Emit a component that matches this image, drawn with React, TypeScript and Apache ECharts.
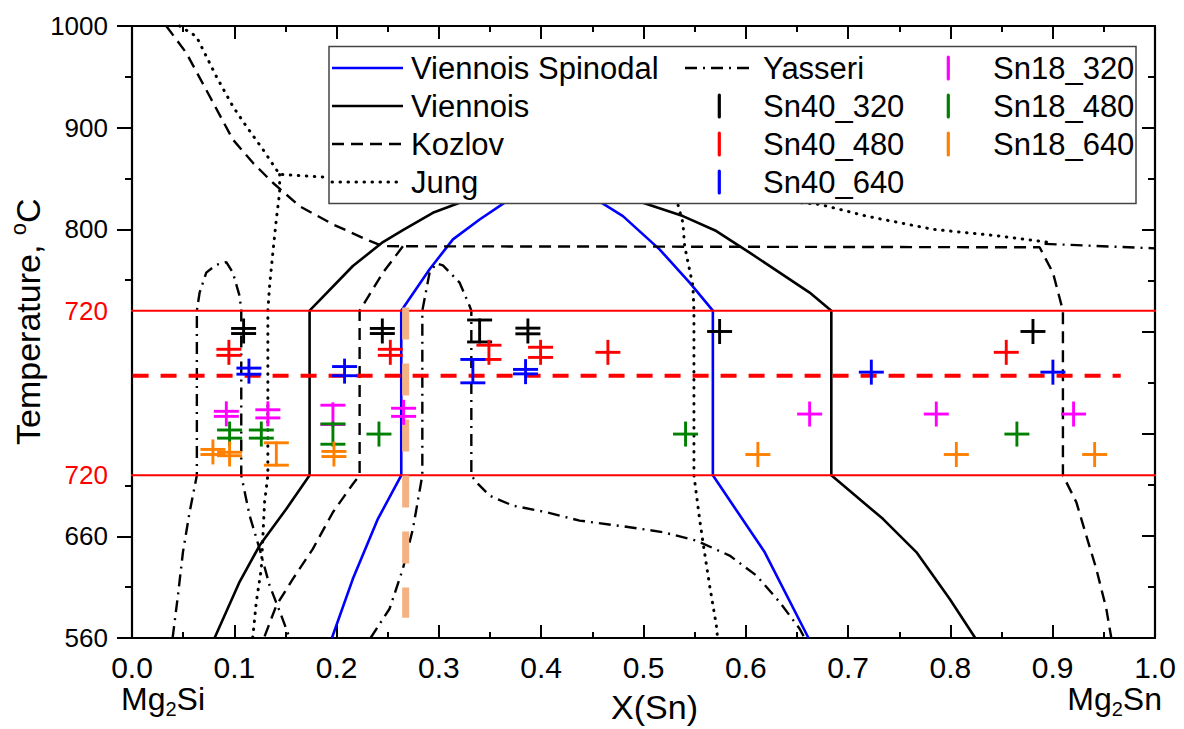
import React, { useEffect, useRef } from "react";
import * as echarts from "echarts";

// ---- Axis ticks (left axis is broken: lower 560-720, middle band, upper 720-1000) ----
const yTickValues = [0, 100, 160, 322, 402, 502, 602];
const yTickLabels = ["560", "660", "720", "720", "800", "900", "1000"];
const yMinorValues = [50, 150, 352, 452, 552];

// ---- Phase boundary curves: [X(Sn), chart y] ----
const viennoisSpinodal: [number, number][] = [
  [0.1954, 0], [0.2159, 58.2], [0.2404, 117.2], [0.2632, 160], [0.2632, 322],
  [0.2909, 362.7], [0.3137, 392.1], [0.3398, 411.7], [0.3643, 428.2], [0.3887, 443.2],
  [0.4327, 443.2], [0.4588, 428.2], [0.4799, 415], [0.5157, 382.3], [0.5451, 349.6],
  [0.5678, 322], [0.5678, 160], [0.6184, 84.5], [0.6613, 0],
];
const viennois: [number, number][] = [
  [0.0807, 0], [0.1052, 55.3], [0.1247, 90.9], [0.1508, 127], [0.1736, 160], [0.1736, 322],
  [0.2159, 365.9], [0.2453, 389.5], [0.2648, 401.3], [0.2941, 418.3], [0.3202, 428.2],
  [0.3593, 439.3], [0.418, 447.1], [0.4571, 445.2], [0.4994, 428.2], [0.5385, 415],
  [0.5712, 400.3], [0.6037, 379.1], [0.6624, 339.8], [0.6836, 322], [0.6836, 160],
  [0.734, 117.2], [0.7667, 84.5], [0.7992, 38.6], [0.8243, 0],
];
const kozlovLiquidus: [number, number][] = [
  [0.0335, 602], [0.0531, 575.5], [0.0759, 532.9], [0.0986, 490.3], [0.1182, 467.4],
  [0.1377, 447.8], [0.1638, 424.8], [0.1964, 406.9], [0.229, 392.1], [0.2453, 385.5],
  [0.2648, 385.3], [0.5, 385], [0.8872, 384.3], [0.9002, 359.4], [0.91, 322], [0.91, 160],
  [0.9231, 133.6], [0.9328, 100.8], [0.9426, 68.1], [0.9524, 28.8], [0.9573, 0],
];
const kozlovLeft: [number, number][] = [
  [0.2648, 385.3], [0.2453, 359.4], [0.2225, 322], [0.2225, 160], [0.2159, 151.5],
  [0.1964, 123.7], [0.1768, 87.7], [0.1573, 58.2], [0.1411, 32], [0.129, 0],
];
const jungLiquidus: [number, number][] = [
  [0.0465, 602], [0.0629, 591.8], [0.0824, 552.5], [0.0986, 523], [0.1117, 503.4],
  [0.128, 480.5], [0.1443, 456], [0.1922, 453.1], [0.3593, 446.2], [0.5548, 436.4],
  [0.6721, 426.6], [0.7178, 415], [0.7829, 402], [0.8481, 395.4], [0.8937, 389.5], [0.8999, 386.2],
];
const jungLeft: [number, number][] = [
  [0.1443, 456], [0.1443, 438], [0.1411, 411.8], [0.1377, 379.1], [0.1345, 346.3],
  [0.1328, 322], [0.1328, 160], [0.1296, 133.6], [0.128, 100.8], [0.1264, 68.1],
  [0.1215, 35.4], [0.1189, 9.1], [0.1179, 0],
];
const jungRight: [number, number][] = [
  [0.5314, 441.3], [0.5336, 426.5], [0.5385, 408.5], [0.5402, 385.5], [0.5483, 346.3],
  [0.5493, 322], [0.5493, 160], [0.5548, 117.2], [0.5581, 94.3], [0.5646, 51.7],
  [0.5712, 12.4], [0.5724, 0],
];
const yasseriLeft: [number, number][] = [
  [0.0397, 0], [0.0449, 41.8], [0.0498, 84.5], [0.0563, 123.7], [0.0634, 160], [0.0634, 322],
  [0.0661, 339.8], [0.0726, 359.4], [0.0822, 367], [0.0922, 369.8], [0.0986, 359.4],
  [0.1052, 336.4], [0.1068, 322], [0.1068, 160], [0.115, 120.4], [0.1247, 87.7],
  [0.1345, 51.7], [0.1459, 22.2], [0.1541, 0],
];
const yasseriMiddle: [number, number][] = [
  [0.2332, 0], [0.2518, 28.8], [0.2648, 68.1], [0.2746, 107.3], [0.2838, 160], [0.2838, 322],
  [0.2909, 359.4], [0.2975, 368.6], [0.3039, 366.6], [0.3202, 349.6], [0.33, 326.6],
  [0.3317, 322], [0.3317, 160], [0.3366, 153.2], [0.3496, 140], [0.3723, 130.2],
  [0.405, 123.7], [0.4375, 115.5], [0.4864, 109], [0.519, 104.1], [0.5516, 95.8],
  [0.5842, 81.1], [0.6103, 61.5], [0.633, 35.4], [0.6526, 9.1], [0.6575, 0],
];
const yasseriRight: [number, number][] = [[0.8921, 387.7], [1.0, 383.3]];

// ---- Reference lines ----
const redUpper: [number, number][] = [[-0.018, 322], [1.021, 322]];
const redLower: [number, number][] = [[-0.018, 160], [1.021, 160]];
const redDashed: [number, number][] = [[-0.0268, 257.9], [0.9665, 257.9]];
const salmonDashed: [number, number][] = [[0.2675, 325], [0.2675, 20]];

// ---- Samples: [X(Sn), chart y, error half-height] ----
const sn40_320: number[][] = [
  [0.1091, 302, 2.5], [0.2447, 302, 2.5], [0.3398, 302, 10.8], [0.387, 302, 2.8],
  [0.5744, 301.5, 0], [0.8807, 301.5, 0],
];
const sn40_480: number[][] = [
  [0.0947, 281, 3], [0.2525, 281, 3], [0.3489, 281, 7], [0.3994, 281, 5],
  [0.4652, 281, 0], [0.8546, 281, 0],
];
const sn40_640: number[][] = [
  [0.1143, 262.5, 3], [0.2078, 262.5, 4.5], [0.3332, 262.5, 11.5], [0.3847, 262, 2.2],
  [0.7227, 261.5, 0], [0.9002, 261.5, 0],
];
const sn18_320: number[][] = [
  [0.0922, 220.5, 2.5], [0.1328, 220.5, 4], [0.1964, 219.5, 9.5], [0.2655, 222, 4],
  [0.6624, 220.3, 0], [0.7862, 220.3, 0], [0.9204, 220.3, 0],
];
const sn18_480: number[][] = [
  [0.0954, 200.6, 4], [0.1264, 200.6, 4], [0.1964, 200.6, 10], [0.2414, 200.6, 0],
  [0.5411, 200.6, 0], [0.865, 200.6, 0],
];
const sn18_640: number[][] = [
  [0.0791, 183, 2.5], [0.0954, 181, 1.7], [0.1411, 181, 11], [0.1974, 181, 2.5],
  [0.6118, 180.5, 0], [0.8058, 180.5, 0], [0.941, 180.5, 0],
];

const FONT = '"Liberation Sans", Arial, sans-serif';

const DASH = [12, 7];
const DOT = [0.5, 7.5];
const DASHDOT = [12, 6, 2, 6];

function lineSeries(name: string, data: [number, number][], color: string, width: number, type: any, cap: string = "butt", z = 2) {
  return {
    type: "line",
    name,
    data,
    showSymbol: false,
    symbol: "none",
    clip: false,
    z,
    silent: true,
    lineStyle: { color, width, type, cap },
  };
}

function pointRenderer(params: any, api: any) {
  const c = api.coord([api.value(0), api.value(1)]);
  const e = api.value(2);
  const ep = e ? Math.abs(api.size([0, e])[1]) : 0;
  const color = api.visual("color");
  const hw = 12.5;
  const half = Math.max(12.5, ep);
  const style = { stroke: color, lineWidth: 2.9 };
  const children: any[] = [
    { type: "line", shape: { x1: c[0], y1: c[1] - half, x2: c[0], y2: c[1] + half }, style },
  ];
  if (ep > 0) {
    children.push({ type: "line", shape: { x1: c[0] - hw, y1: c[1] - ep, x2: c[0] + hw, y2: c[1] - ep }, style });
    children.push({ type: "line", shape: { x1: c[0] - hw, y1: c[1] + ep, x2: c[0] + hw, y2: c[1] + ep }, style });
  } else {
    children.push({ type: "line", shape: { x1: c[0] - hw, y1: c[1], x2: c[0] + hw, y2: c[1] }, style });
  }
  return { type: "group", children };
}

function pointSeries(name: string, data: number[][], color: string) {
  return {
    type: "custom",
    name,
    data,
    z: 5,
    itemStyle: { color },
    encode: { x: 0, y: 1 },
    renderItem: pointRenderer,
  };
}

function legendGraphics() {
  const Z = 100;
  const els: any[] = [];
  els.push({
    type: "rect",
    z: Z,
    shape: { x: 329, y: 46.5, width: 807, height: 157 },
    style: { fill: "#ffffff", stroke: "#444", lineWidth: 1.5 },
  });
  const rows = [68, 106, 144, 182];
  const txt = (x: number, y: number, text: string) => ({
    type: "text",
    z: Z + 1,
    x,
    y,
    style: { text, font: `31px ${FONT}`, fill: "#000", align: "left", verticalAlign: "middle", textAlign: "left", textVerticalAlign: "middle" },
  });
  const seg = (x1: number, x2: number, y: number, stroke: string, lineDash: any, cap = "butt", w = 2.6) => ({
    type: "line",
    z: Z + 1,
    shape: { x1, y1: y, x2, y2: y },
    style: { stroke, lineWidth: w, lineDash, lineCap: cap },
  });
  const bar = (x: number, y: number, stroke: string) => ({
    type: "line",
    z: Z + 1,
    shape: { x1: x, y1: y - 11, x2: x, y2: y + 11 },
    style: { stroke, lineWidth: 3.2, lineCap: "round" },
  });
  els.push(seg(332, 403, rows[0], "#0000ff", null));
  els.push(txt(411, rows[0], "Viennois Spinodal"));
  els.push(seg(332, 403, rows[1], "#000", null));
  els.push(txt(411, rows[1], "Viennois"));
  els.push(seg(332, 403, rows[2], "#000", DASH, "butt", 2.4));
  els.push(txt(411, rows[2], "Kozlov"));
  els.push(seg(332, 403, rows[3], "#000", DOT, "round", 3));
  els.push(txt(411, rows[3], "Jung"));
  els.push(seg(685, 755, rows[0], "#000", DASHDOT, "butt", 2.4));
  els.push(txt(763, rows[0], "Yasseri"));
  els.push(bar(719.3, rows[1], "#000"));
  els.push(txt(763, rows[1], "Sn40_320"));
  els.push(bar(719.3, rows[2], "#ff0000"));
  els.push(txt(763, rows[2], "Sn40_480"));
  els.push(bar(719.3, rows[3], "#0000ff"));
  els.push(txt(763, rows[3], "Sn40_640"));
  els.push(bar(948.3, rows[0], "#ff00ff"));
  els.push(txt(993, rows[0], "Sn18_320"));
  els.push(bar(948.3, rows[1], "#008000"));
  els.push(txt(993, rows[1], "Sn18_480"));
  els.push(bar(948.3, rows[2], "#ff8000"));
  els.push(txt(993, rows[2], "Sn18_640"));
  return els;
}

export default function App() {
  const ref = useRef<HTMLDivElement>(null);
  useEffect(() => {
    if (!ref.current) return;
    const chart = echarts.init(ref.current, undefined, { renderer: "svg" });
    const axisLineStyle = { color: "#000", width: 2.2 };
    const option: any = {
      animation: false,
      backgroundColor: "#ffffff",
      textStyle: { fontFamily: FONT },
      grid: { left: 132, right: 29, top: 26, bottom: 90, containLabel: false },
      xAxis: [
        {
          type: "value",
          position: "bottom",
          min: 0,
          max: 1,
          interval: 0.1,
          name: "X(Sn)",
          nameLocation: "middle",
          nameGap: 52,
          nameTextStyle: { fontSize: 34, color: "#000", fontFamily: FONT, padding: [0, 0, 0, 22] },
          axisLine: { show: true, onZero: false, lineStyle: axisLineStyle },
          axisTick: { show: true, inside: true, length: 13, lineStyle: { width: 2, color: "#000" } },
          minorTick: { show: true, splitNumber: 2, length: 6, lineStyle: { width: 2, color: "#000" } },
          axisLabel: {
            fontSize: 30,
            color: "#000",
            margin: 14,
            fontFamily: FONT,
            formatter: (v: number) => v.toFixed(1),
          },
          splitLine: { show: false },
        },
        {
          type: "value",
          position: "top",
          min: 0,
          max: 1,
          interval: 0.1,
          axisLine: { show: true, onZero: false, lineStyle: axisLineStyle },
          axisTick: { show: true, inside: true, length: 13, lineStyle: { width: 2, color: "#000" } },
          minorTick: { show: true, splitNumber: 2, length: 6, lineStyle: { width: 2, color: "#000" } },
          axisLabel: { show: false },
          splitLine: { show: false },
        },
      ],
      yAxis: [
        {
          type: "value",
          position: "left",
          min: 0,
          max: 602,
          axisLine: { show: true, onZero: false, lineStyle: axisLineStyle },
          axisTick: {
            show: true,
            inside: false,
            length: 15,
            customValues: [0, 100, 402, 502, 602],
            lineStyle: { width: 2, color: "#000" },
          },
          axisLabel: {
            show: true,
            customValues: yTickValues,
            fontSize: 26,
            color: "#000",
            margin: 24,
            fontFamily: FONT,
            formatter: (v: number) => {
              const i = yTickValues.indexOf(Math.round(v));
              const t = i >= 0 ? yTickLabels[i] : "";
              return t === "720" ? `{r|${t}}` : t;
            },
            rich: { r: { color: "#ff0000", fontSize: 26, fontFamily: FONT } },
          },
          splitLine: { show: false },
        },
        {
          type: "value",
          position: "left",
          min: 0,
          max: 602,
          axisLine: { show: false },
          axisTick: {
            show: true,
            inside: false,
            length: 7,
            customValues: yMinorValues,
            lineStyle: { width: 2, color: "#000" },
          },
          axisLabel: { show: false },
          splitLine: { show: false },
        },
        {
          type: "value",
          position: "right",
          min: 0,
          max: 6,
          interval: 1,
          axisLine: { show: true, onZero: false, lineStyle: axisLineStyle },
          axisTick: { show: true, inside: true, length: 13, lineStyle: { width: 2, color: "#000" } },
          minorTick: { show: true, splitNumber: 2, length: 7, lineStyle: { width: 2, color: "#000" } },
          axisLabel: { show: false },
          splitLine: { show: false },
        },
      ],
      series: [
        lineSeries("Viennois Spinodal", viennoisSpinodal, "#0000ff", 2.6, "solid"),
        lineSeries("Viennois", viennois, "#000000", 2.6, "solid"),
        lineSeries("Kozlov", kozlovLiquidus, "#000000", 2.4, DASH),
        lineSeries("Kozlov", kozlovLeft, "#000000", 2.4, DASH),
        lineSeries("Jung", jungLiquidus, "#000000", 3, DOT, "round"),
        lineSeries("Jung", jungLeft, "#000000", 3, DOT, "round"),
        lineSeries("Jung", jungRight, "#000000", 3, DOT, "round"),
        lineSeries("Yasseri", yasseriLeft, "#000000", 2.4, DASHDOT),
        lineSeries("Yasseri", yasseriMiddle, "#000000", 2.4, DASHDOT),
        lineSeries("Yasseri", yasseriRight, "#000000", 2.4, DASHDOT),
        lineSeries("720 upper", redUpper, "#ff0000", 2, "solid", "butt", 3),
        lineSeries("720 lower", redLower, "#ff0000", 2, "solid", "butt", 3),
        lineSeries("Boundary", redDashed, "#ff0000", 4, [16, 12], "butt", 3),
        lineSeries("Composition", salmonDashed, "#f4b183", 7, [32, 24], "butt", 3),
        pointSeries("Sn40_320", sn40_320, "#000000"),
        pointSeries("Sn40_480", sn40_480, "#ff0000"),
        pointSeries("Sn40_640", sn40_640, "#0000ff"),
        pointSeries("Sn18_320", sn18_320, "#ff00ff"),
        pointSeries("Sn18_480", sn18_480, "#008000"),
        pointSeries("Sn18_640", sn18_640, "#ff8000"),
      ],
      graphic: [
        ...legendGraphics(),
        {
          type: "text",
          z: 50,
          x: 27.5,
          y: 321.7,
          rotation: Math.PI / 2,
          style: {
            text: "{a|Temperature, }{s|o}{a|C}",
            align: "center",
            verticalAlign: "middle",
            textAlign: "center",
            textVerticalAlign: "middle",
            fill: "#000",
            rich: {
              a: { fontSize: 34, lineHeight: 40, fontFamily: FONT, fill: "#000", color: "#000" },
              s: { fontSize: 22, lineHeight: 18, verticalAlign: "top", fontFamily: FONT, fill: "#000", color: "#000" },
            },
          },
        },
        {
          type: "text",
          z: 50,
          x: 121,
          y: 699,
          style: {
            text: "{a|Mg}{b|2}{a|Si}",
            align: "left",
            verticalAlign: "middle",
            textAlign: "left",
            textVerticalAlign: "middle",
            fill: "#000",
            rich: {
              a: { fontSize: 32, lineHeight: 40, fontFamily: FONT, fill: "#000", color: "#000" },
              b: { fontSize: 20, lineHeight: 8, verticalAlign: "bottom", fontFamily: FONT, fill: "#000", color: "#000" },
            },
          },
        },
        {
          type: "text",
          z: 50,
          x: 1162,
          y: 699,
          style: {
            text: "{a|Mg}{b|2}{a|Sn}",
            align: "right",
            verticalAlign: "middle",
            textAlign: "right",
            textVerticalAlign: "middle",
            fill: "#000",
            rich: {
              a: { fontSize: 32, lineHeight: 40, fontFamily: FONT, fill: "#000", color: "#000" },
              b: { fontSize: 20, lineHeight: 8, verticalAlign: "bottom", fontFamily: FONT, fill: "#000", color: "#000" },
            },
          },
        },
      ],
    };
    chart.setOption(option);
    return () => chart.dispose();
  }, []);
  return (
    <div
      ref={ref}
      style={{ position: "absolute", left: 0, top: 0, width: 1184, height: 729, background: "#fff" }}
    />
  );
}
